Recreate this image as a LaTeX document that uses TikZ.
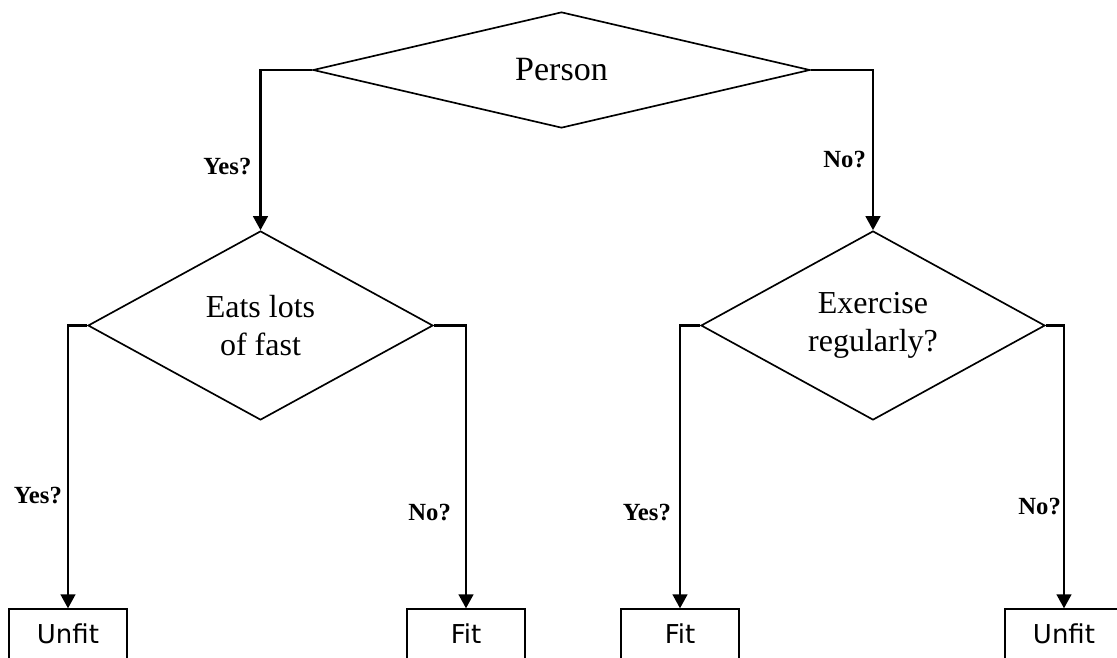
\documentclass[tikz,border=0pt]{standalone}
\usepackage{fontspec}
\setmainfont{Liberation Serif}
\newfontfamily\boxfont{DejaVu Sans}
\usetikzlibrary{shapes.geometric,arrows.meta}
\begin{document}
\begin{tikzpicture}[x=0.75pt, y=-0.75pt,
    question/.style={draw, shape=diamond, line width=1.25pt, inner sep=0pt, aspect=1.8, align=center, font=\fontsize{24}{29}\selectfont},
    answer/.style={draw, shape=rectangle, line width=1pt, minimum width=88.5pt, minimum height=37.5pt, inner sep=0pt, font=\boxfont\fontsize{19.5}{23}\selectfont},
    branch/.style={line width=1.75pt, -{Triangle[length=10.5pt, width=11pt]}},
    tag/.style={font=\bfseries\fontsize{18.5}{22}\selectfont, inner sep=0pt}]
            \useasboundingbox (0,0) rectangle (1117,657);

            \node[question, aspect=4.3, minimum width=372.75pt, minimum height=87pt, font=\fontsize{25.5}{30}\selectfont] (P) at (561.5,70) {Person};

            \node[question, minimum width=258.75pt, minimum height=141.75pt] (L) at (260.5,325.5) {Eats lots\\of fast};
            \node[question, minimum width=258pt, minimum height=141.75pt] (R) at (873,325.5) {Exercise\\regularly?};

            \node[answer] (A) at (68,634) {Unfit};
            \node[answer] (B) at (466,634) {Fit};
            \node[answer] (C) at (680,634) {Fit};
            \node[answer] (D) at (1064,634) {Unfit};

            \draw[branch] (P.west) -| node[tag, pos=.8, left=6pt] {Yes?} (L.north);
            \draw[branch] (P.east) -| node[tag, pos=.78, left=4.5pt] {No?} (R.north);

            \draw[branch] (L.west) -| node[tag, pos=.8, left=3.75pt] {Yes?} (A.north);
            \draw[branch] (L.east) -| node[tag, pos=.83, left=10.5pt] {No?} (B.north);
            \draw[branch] (R.west) -| node[tag, pos=.83, left=6pt] {Yes?} (C.north);
            \draw[branch] (R.east) -| node[tag, pos=.82, left=1.5pt] {No?} (D.north);
        \end{tikzpicture}
\end{document}
